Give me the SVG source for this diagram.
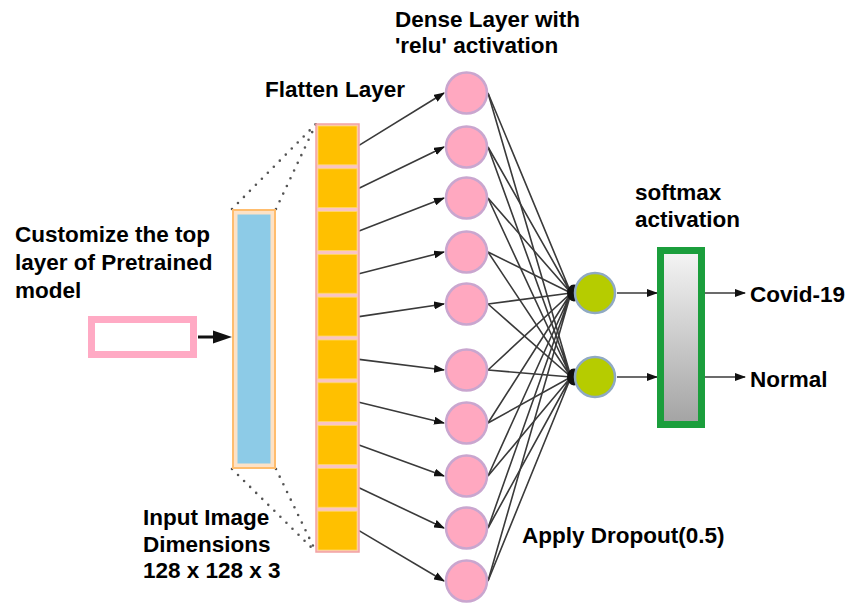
<svg xmlns="http://www.w3.org/2000/svg" width="848" height="609" viewBox="0 0 848 609">
<style>
text{font-family:"Liberation Sans",Arial,sans-serif;font-weight:bold;font-size:22.5px;fill:#000}
.cell{fill:#ffc000;stroke:#ffd966;stroke-width:0.8}
.dn{fill:#ffa8c0;stroke:#c9a6cf;stroke-width:2.5}
.gn{fill:#b6cc00;stroke:#8fa9c2;stroke-width:2.5}
.ln{stroke:#3a3a3a;stroke-width:1.6;fill:none}
.ar{stroke:#3a3a3a;stroke-width:1.6;fill:none;marker-end:url(#ah)}
.dot{stroke:#555;stroke-width:2.6;stroke-linecap:round;stroke-dasharray:0 8.5;fill:none}
</style>
<defs>
<marker id="ah" markerWidth="11" markerHeight="8" refX="10" refY="4" orient="auto" markerUnits="userSpaceOnUse">
<path d="M0,0 L11,4 L0,8 z" fill="#111"/>
</marker>
<linearGradient id="sg" x1="0" y1="0" x2="0" y2="1">
<stop offset="0" stop-color="#f5f5f5"/>
<stop offset="1" stop-color="#a3a3a3"/>
</linearGradient>
</defs>
<rect width="848" height="609" fill="#fff"/>

<g id="labels">
<text x="15" y="242">Customize the top</text>
<text x="15" y="270">layer of Pretrained</text>
<text x="15" y="298">model</text>
<text x="143" y="525">Input Image</text>
<text x="143" y="552">Dimensions</text>
<text x="143" y="578">128 x 128 x 3</text>
<text x="265" y="97">Flatten Layer</text>
<text x="395" y="27">Dense Layer with</text>
<text x="395" y="53">'relu' activation</text>
<text x="635" y="200">softmax</text>
<text x="635" y="227">activation</text>
<text x="522" y="543">Apply Dropout(0.5)</text>
<text x="750" y="302">Covid-19</text>
<text x="750" y="387">Normal</text>
</g>

<g id="connectors">
<line class="dot" x1="232" y1="209" x2="316" y2="124"/>
<line class="dot" x1="276" y1="209" x2="316" y2="124"/>
<line class="dot" x1="232" y1="469" x2="316" y2="552"/>
<line class="dot" x1="276" y1="469" x2="316" y2="552"/>
<line x1="198" y1="337" x2="216" y2="337" stroke="#111" stroke-width="3"/>
<polygon points="213,330.5 232,337 213,343.5" fill="#111"/>
<line class="ar" x1="359" y1="145.4" x2="444" y2="93"/>
<line class="ar" x1="359" y1="188.2" x2="444" y2="147"/>
<line class="ar" x1="359" y1="231" x2="444" y2="198"/>
<line class="ar" x1="359" y1="273.8" x2="444" y2="252"/>
<line class="ar" x1="359" y1="316.6" x2="444" y2="304"/>
<line class="ar" x1="359" y1="359.4" x2="444" y2="370"/>
<line class="ar" x1="359" y1="402.2" x2="444" y2="423"/>
<line class="ar" x1="359" y1="445" x2="444" y2="476"/>
<line class="ar" x1="359" y1="487.8" x2="444" y2="528"/>
<line class="ar" x1="359" y1="530.6" x2="444" y2="581"/>
<g class="ln">
<path d="M488,93 L571,293 M488,147 L571,293 M488,198 L571,293 M488,252 L571,293 M488,304 L571,293 M488,370 L571,293 M488,423 L571,293 M488,476 L571,293 M488,528 L571,293 M488,581 L571,293"/>
<path d="M488,93 L571,377 M488,147 L571,377 M488,198 L571,377 M488,252 L571,377 M488,304 L571,377 M488,370 L571,377 M488,423 L571,377 M488,476 L571,377 M488,528 L571,377 M488,581 L571,377"/>
</g>
<ellipse cx="574" cy="293" rx="7" ry="8.5" fill="#111"/>
<ellipse cx="574" cy="377" rx="7" ry="8.5" fill="#111"/>
<line class="ar" x1="617" y1="293" x2="657" y2="293"/>
<line class="ar" x1="617" y1="377" x2="657" y2="377"/>
<line class="ar" x1="705" y1="293" x2="745" y2="293"/>
<line class="ar" x1="705" y1="377" x2="745" y2="377"/>
</g>

<g id="input-box">
<rect x="91.5" y="319.5" width="102" height="35" fill="#fff" stroke="#ffaac4" stroke-width="7"/>
</g>

<g id="input-image">
<rect x="233" y="210" width="42" height="258" fill="#fde2c6" stroke="#ffbd6e" stroke-width="2"/>
<rect x="237.5" y="214.5" width="33" height="249" fill="#8dcbe7"/>
</g>

<g id="flatten">
<rect x="316" y="124" width="43" height="428" fill="#f9c4c4" stroke="#f2a2a2" stroke-width="1.5"/>
<rect class="cell" x="318" y="126" width="39" height="38.8"/>
<rect class="cell" x="318" y="168.8" width="39" height="38.8"/>
<rect class="cell" x="318" y="211.6" width="39" height="38.8"/>
<rect class="cell" x="318" y="254.4" width="39" height="38.8"/>
<rect class="cell" x="318" y="297.2" width="39" height="38.8"/>
<rect class="cell" x="318" y="340" width="39" height="38.8"/>
<rect class="cell" x="318" y="382.8" width="39" height="38.8"/>
<rect class="cell" x="318" y="425.6" width="39" height="38.8"/>
<rect class="cell" x="318" y="468.4" width="39" height="38.8"/>
<rect class="cell" x="318" y="511.2" width="39" height="38.8"/>
</g>

<g id="dense">
<circle class="dn" cx="466.5" cy="93" r="20.5"/>
<circle class="dn" cx="466.5" cy="147" r="20.5"/>
<circle class="dn" cx="466.5" cy="198" r="20.5"/>
<circle class="dn" cx="466.5" cy="252" r="20.5"/>
<circle class="dn" cx="466.5" cy="304" r="20.5"/>
<circle class="dn" cx="466.5" cy="370" r="20.5"/>
<circle class="dn" cx="466.5" cy="423" r="20.5"/>
<circle class="dn" cx="466.5" cy="476" r="20.5"/>
<circle class="dn" cx="466.5" cy="528" r="20.5"/>
<circle class="dn" cx="466.5" cy="581" r="20.5"/>
</g>

<g id="output-nodes">
<circle class="gn" cx="595" cy="293" r="20"/>
<circle class="gn" cx="595" cy="377" r="20"/>
</g>

<g id="softmax">
<rect x="660.5" y="250.5" width="41" height="174" fill="url(#sg)" stroke="#1b9e3c" stroke-width="7"/>
</g>
</svg>
